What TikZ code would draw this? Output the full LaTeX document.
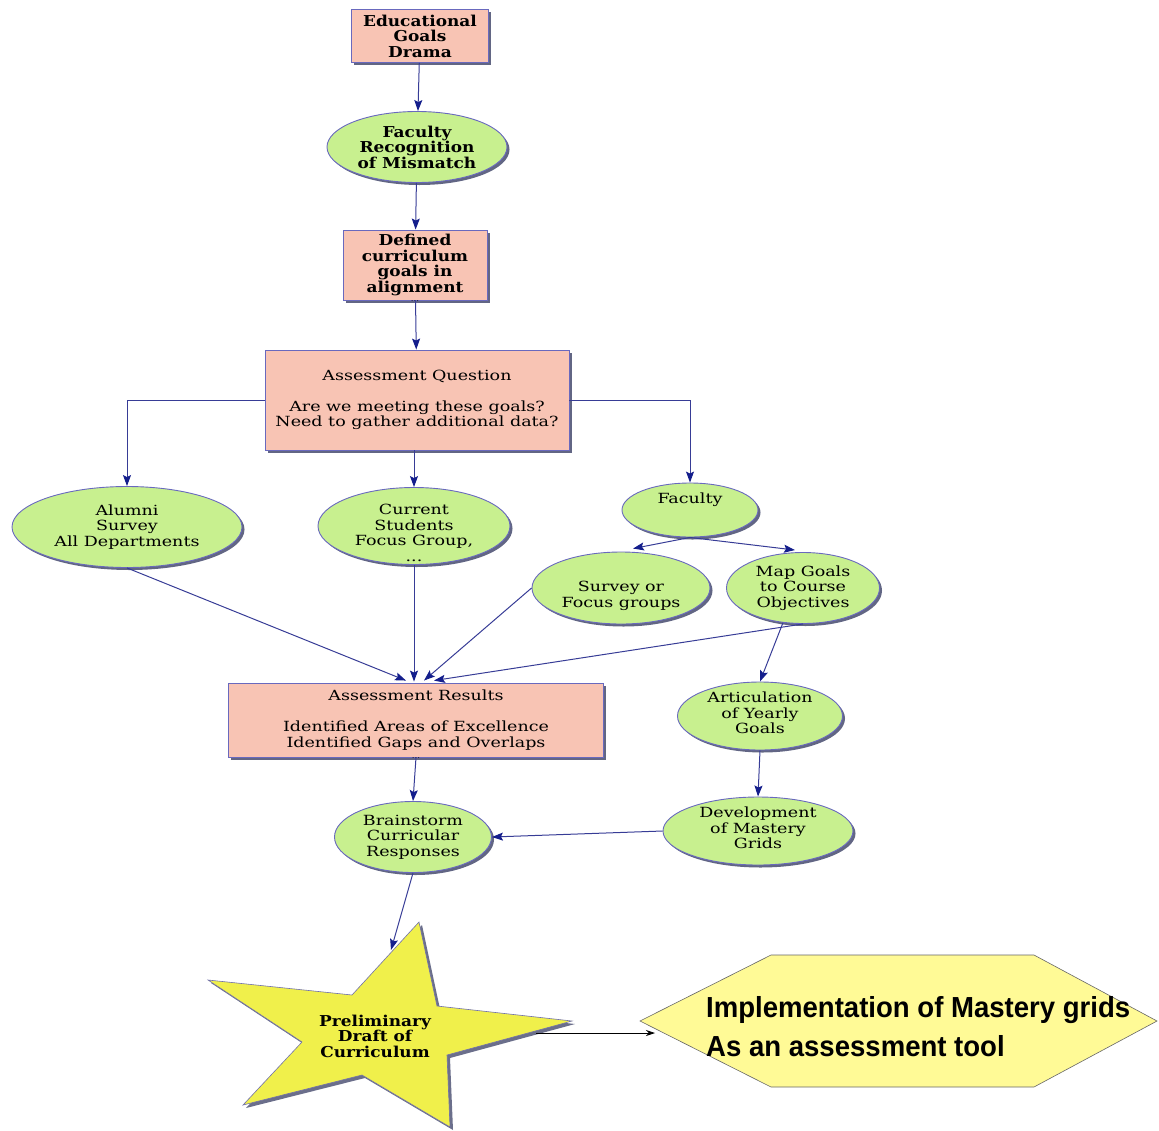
\documentclass[tikz,border=0pt]{standalone}
\usepackage{fontspec}
\setmainfont[FakeStretch=1.25]{DejaVu Serif}
\newfontfamily\boldserif[FakeStretch=1.13]{DejaVu Serif}
\newfontfamily\hexfont[FakeStretch=0.95]{Liberation Sans}
\usetikzlibrary{shapes.geometric,arrows.meta,shadows,calc}
\definecolor{pinkfill}{RGB}{248,196,180}
\definecolor{greenfill}{RGB}{200,240,143}
\definecolor{edgecol}{RGB}{105,105,190}
\definecolor{shadowcol}{RGB}{70,75,110}
\definecolor{linecol}{RGB}{55,60,150}
\definecolor{tipcol}{RGB}{20,30,140}
\definecolor{staryellow}{RGB}{240,240,75}
\definecolor{hexyellow}{RGB}{255,250,150}
\begin{document}
\begin{tikzpicture}[x=1pt,y=-1pt,
  every node/.style={font=\fontsize{14}{15.5}\selectfont, align=center, inner sep=0pt},
  shad/.style={drop shadow={shadow xshift=2.5pt,shadow yshift=-2.5pt,fill=shadowcol,opacity=0.85}},
  pinkbox/.style={rectangle, draw=edgecol, line width=0.9pt, fill=pinkfill, shad},
  greenell/.style={ellipse, draw=edgecol, line width=0.9pt, fill=greenfill, shad},
  boldtext/.style={font=\boldserif\bfseries\fontsize{15}{15.5}\selectfont},
  dots/.style={font=\fontsize{7}{7}\selectfont, anchor=north, inner sep=0.5pt},
  arr/.style={draw=linecol, line width=1pt, -{Stealth[length=11pt,width=8pt,inset=2pt,color=tipcol]}},
  blackarr/.style={draw=black, line width=0.8pt, -{Stealth[length=9pt,width=6pt]}},
]
\useasboundingbox (0,0) rectangle (1159,1130);

% nodes
\node[pinkbox, boldtext, minimum width=137, minimum height=53] (edu) at (420,36) {Educational\\Goals\\Drama};
\node[greenell, boldtext, minimum width=180, minimum height=71] (frm) at (417,147) {Faculty\\Recognition\\of Mismatch};
\node[pinkbox, boldtext, minimum width=144, minimum height=70] (def) at (415,265) {Defined\\curriculum\\goals in\\alignment};
\node[dots] (defdots) at (def.south) {...};
\node[pinkbox, minimum width=304, minimum height=100] (aq) at (417,400) {Assessment Question\\[15.5pt]Are we meeting these goals?\\Need to gather additional data?};
\node[greenell, minimum width=230, minimum height=81] (alum) at (127,527) {Alumni\\Survey\\All Departments};
\node[greenell, minimum width=192, minimum height=77] (cur) at (414,526) {};
\node (curtext) at (414,533) {Current\\Students\\Focus Group,\\...};
\node[greenell, minimum width=136, minimum height=54] (fac) at (690,510) {};
\node (factext) at (690,500) {Faculty};
\node[greenell, minimum width=178, minimum height=72] (surv) at (621,588) {};
\node (survtext) at (621,596) {Survey or\\Focus groups};
\node[greenell, minimum width=153, minimum height=71] (map) at (803,588) {Map Goals\\to Course\\Objectives};
\node[pinkbox, minimum width=375, minimum height=74] (res) at (416,720) {Assessment Results\\[15.5pt]Identified Areas of Excellence\\Identified Gaps and Overlaps};
\node[dots] (resdots) at (res.south) {...};
\node[greenell, minimum width=165, minimum height=68] (art) at (760,716) {};
\node (arttext) at (760,713) {Articulation\\of Yearly\\Goals};
\node[greenell, minimum width=190, minimum height=68] (dev) at (758,831) {};
\node (devtext) at (758,828) {Development\\of Mastery\\Grids};
\node[greenell, minimum width=157, minimum height=71] (brain) at (413,837) {Brainstorm\\Curricular\\Responses};

% star
\fill[shadowcol, opacity=0.8, shift={(3pt,-3pt)}] (419,922) -- (437,1006) -- (572,1021) -- (447,1055) -- (450,1127) -- (362,1075) -- (243,1105) -- (302,1042) -- (208,980) -- (352,995) -- cycle;
\filldraw[fill=staryellow, draw=edgecol!70!gray, line width=0.6pt] (419,922) -- (437,1006) -- (572,1021) -- (447,1055) -- (450,1127) -- (362,1075) -- (243,1105) -- (302,1042) -- (208,980) -- (352,995) -- cycle;
\node[boldtext] (star) at (375,1036) {Preliminary\\Draft of\\Curriculum};
\coordinate (starN) at (391,950);
\coordinate (starE) at (536,1033);

% hexagon
\filldraw[fill=hexyellow, draw=black!60, line width=0.6pt] (640,1021) -- (771,955) -- (1034,955) -- (1157,1021) -- (1034,1087) -- (771,1087) -- cycle;
\node[font=\hexfont\bfseries\fontsize{29}{39}\selectfont, align=left, anchor=west] (hex) at (706,1027) {Implementation of Mastery grids\\As an assessment tool};
\coordinate (hexW) at (655,1033);

% connectors
\draw[arr] (edu) -- (frm);
\draw[arr] (frm) -- (def);
\draw[arr] (def) -- (aq);
\draw[arr] (aq.west) -| (alum.north);
\draw[arr] (aq.east) -| (fac.north);
\draw[arr] (cur.north |- aq.south) -- (cur.north);
\draw[arr] (fac.south) -- ($(surv.north)+(12,-3)$);
\draw[arr] (fac.south) -- ($(map.north)+(-8,-2)$);
\draw[arr] (alum.south) -- ($(res.north)+(-10,-2)$);
\draw[arr] (cur.south) -- ($(res.north)+(-2,-1)$);
\draw[arr] (surv.west) -- ($(res.north)+(8,-2)$);
\draw[arr] (map.south) -- ($(res.north)+(18,-2)$);
\draw[arr] (map.-120) -- (art.north);
\draw[arr] (res.south) -- (brain.north);
\draw[arr] (art.south) -- (dev.north);
\draw[arr] (dev.west) -- (brain.east);
\draw[arr] (brain.south) -- (starN);
\draw[blackarr] (starE) -- (hexW);
\end{tikzpicture}
\end{document}
